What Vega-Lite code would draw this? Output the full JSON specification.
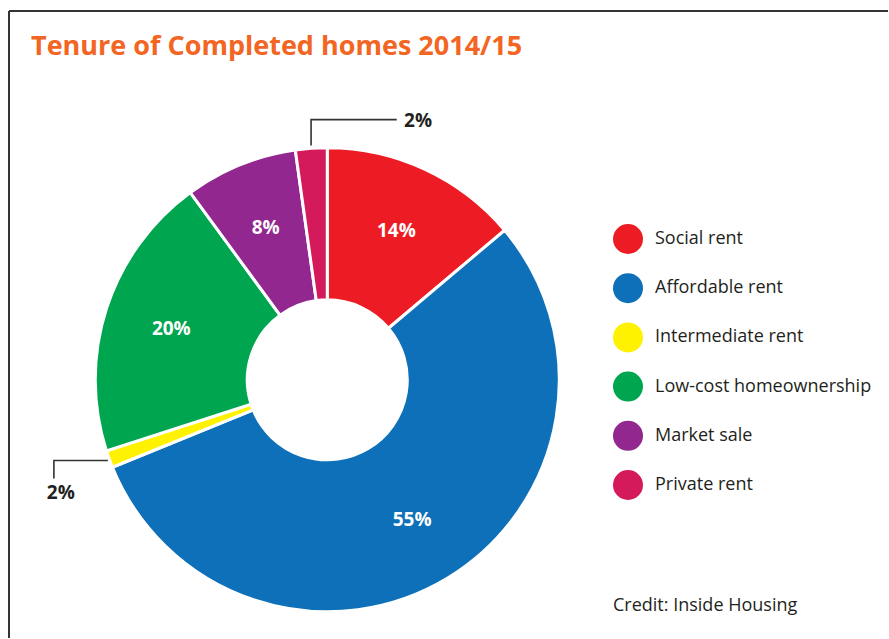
{
  "$schema": "https://vega.github.io/schema/vega-lite/v6.json",
  "width": 889,
  "height": 639,
  "autosize": {"type": "fit", "contains": "padding"},
  "padding": {"left": 8, "top": 10, "right": 0, "bottom": 0},
  "background": "white",
  "config": {"view": {"stroke": null}, "font": "Open Sans"},
  "title": {
    "text": "Tenure of Completed homes 2014/15",
    "anchor": "start",
    "frame": "group",
    "font": "Open Sans",
    "fontSize": 27,
    "fontWeight": "bold",
    "color": "#f26522",
    "dx": 22,
    "dy": 72,
    "offset": 0,
    "baseline": "alphabetic"
  },
  "datasets": {
    "slices": [
      {"tenure": "Social rent", "share": 13.85, "label": "14%", "order": 1},
      {"tenure": "Affordable rent", "share": 55.0, "label": "55%", "order": 2},
      {"tenure": "Intermediate rent", "share": 1.2, "label": "2%", "order": 3},
      {"tenure": "Low-cost homeownership", "share": 19.9, "label": "20%", "order": 4},
      {"tenure": "Market sale", "share": 7.85, "label": "8%", "order": 5},
      {"tenure": "Private rent", "share": 2.2, "label": "2%", "order": 6}
    ],
    "leaders": [
      {"tenure": "Private rent", "step": 1, "px": -7.0, "py": 101.3},
      {"tenure": "Private rent", "step": 2, "px": -7.0, "py": 112.5},
      {"tenure": "Private rent", "step": 3, "px": 30.0, "py": 112.5},
      {"tenure": "Intermediate rent", "step": 1, "px": -94.8, "py": -34.9},
      {"tenure": "Intermediate rent", "step": 2, "px": -118.1, "py": -34.9},
      {"tenure": "Intermediate rent", "step": 3, "px": -118.1, "py": -42.7}
    ],
    "callouts": [
      {"tenure": "Private rent", "label": "2%", "px": 39.2, "py": 111.8},
      {"tenure": "Intermediate rent", "label": "2%", "px": -115.1, "py": -49.1}
    ]
  },
  "layer": [
    {
      "data": {"values": [{"edge": -137.5}]},
      "mark": {"type": "rule", "stroke": "#333333", "strokeWidth": 2},
      "encoding": {
        "x": {"field": "edge", "type": "quantitative", "scale": {"domain": [-137.5, 242.24], "nice": false, "zero": false}, "axis": null}
      }
    },
    {
      "data": {"values": [{"edge": 159.48}]},
      "mark": {"type": "rule", "stroke": "#333333", "strokeWidth": 2},
      "encoding": {
        "y": {"field": "edge", "type": "quantitative", "scale": {"domain": [-111.64, 159.48], "nice": false, "zero": false}, "axis": null}
      }
    },
    {
      "data": {"name": "slices"},
      "mark": {"type": "arc", "outerRadius": 232, "innerRadius": 80, "stroke": "white", "strokeWidth": 3},
      "encoding": {
        "theta": {"field": "share", "type": "quantitative", "stack": true},
        "order": {"field": "order", "type": "quantitative"},
        "color": {
          "field": "tenure",
          "type": "nominal",
          "scale": {
            "domain": ["Social rent", "Affordable rent", "Intermediate rent", "Low-cost homeownership", "Market sale", "Private rent"],
            "range": ["#ed1c24", "#0e70b9", "#fff200", "#00a54f", "#92278f", "#d51a5c"]
          },
          "legend": {
            "orient": "none",
            "legendX": 604,
            "legendY": 213,
            "title": "Credit: Inside Housing",
            "titleOrient": "bottom",
            "titlePadding": 97,
            "titleFont": "Open Sans",
            "titleFontSize": 18,
            "titleFontWeight": "normal",
            "titleColor": "#231f20",
            "titleBaseline": "top",
            "titleLimit": 400,
            "labelFont": "Open Sans",
            "labelFontSize": 18,
            "labelColor": "#231f20",
            "labelOffset": 12,
            "labelLimit": 400,
            "symbolSize": 900,
            "symbolType": "circle",
            "symbolStrokeWidth": 0,
            "symbolOpacity": 1,
            "rowPadding": 19.2,
            "padding": 0
          }
        },
        "x": {"datum": 0, "type": "quantitative", "scale": {"domain": [-137.5, 242.24], "nice": false, "zero": false}, "axis": null},
        "y": {"datum": 0, "type": "quantitative", "scale": {"domain": [-111.64, 159.48], "nice": false, "zero": false}, "axis": null}
      }
    },
    {
      "data": {"name": "slices"},
      "transform": [{"calculate": "datum.share > 5 ? datum.label : ''", "as": "inner"}],
      "mark": {"type": "text", "radius": 164, "fill": "white", "font": "Open Sans", "fontSize": 19, "fontWeight": "bold", "align": "center", "baseline": "middle"},
      "encoding": {
        "theta": {"field": "share", "type": "quantitative", "stack": true},
        "order": {"field": "order", "type": "quantitative"},
        "text": {"field": "inner", "type": "nominal"},
        "x": {"datum": 0, "type": "quantitative", "scale": {"domain": [-137.5, 242.24], "nice": false, "zero": false}, "axis": null},
        "y": {"datum": 0, "type": "quantitative", "scale": {"domain": [-111.64, 159.48], "nice": false, "zero": false}, "axis": null}
      }
    },
    {
      "data": {"name": "leaders"},
      "mark": {"type": "line", "stroke": "#333333", "strokeWidth": 1.6},
      "encoding": {
        "x": {"field": "px", "type": "quantitative", "scale": {"domain": [-137.5, 242.24], "nice": false, "zero": false}, "axis": null},
        "y": {"field": "py", "type": "quantitative", "scale": {"domain": [-111.64, 159.48], "nice": false, "zero": false}, "axis": null},
        "detail": {"field": "tenure", "type": "nominal"},
        "order": {"field": "step", "type": "quantitative"}
      }
    },
    {
      "data": {"name": "callouts"},
      "mark": {"type": "text", "fill": "#231f20", "font": "Open Sans", "fontSize": 19, "fontWeight": "bold", "align": "center", "baseline": "middle"},
      "encoding": {
        "x": {"field": "px", "type": "quantitative", "scale": {"domain": [-137.5, 242.24], "nice": false, "zero": false}, "axis": null},
        "y": {"field": "py", "type": "quantitative", "scale": {"domain": [-111.64, 159.48], "nice": false, "zero": false}, "axis": null},
        "text": {"field": "label", "type": "nominal"}
      }
    }
  ]
}
